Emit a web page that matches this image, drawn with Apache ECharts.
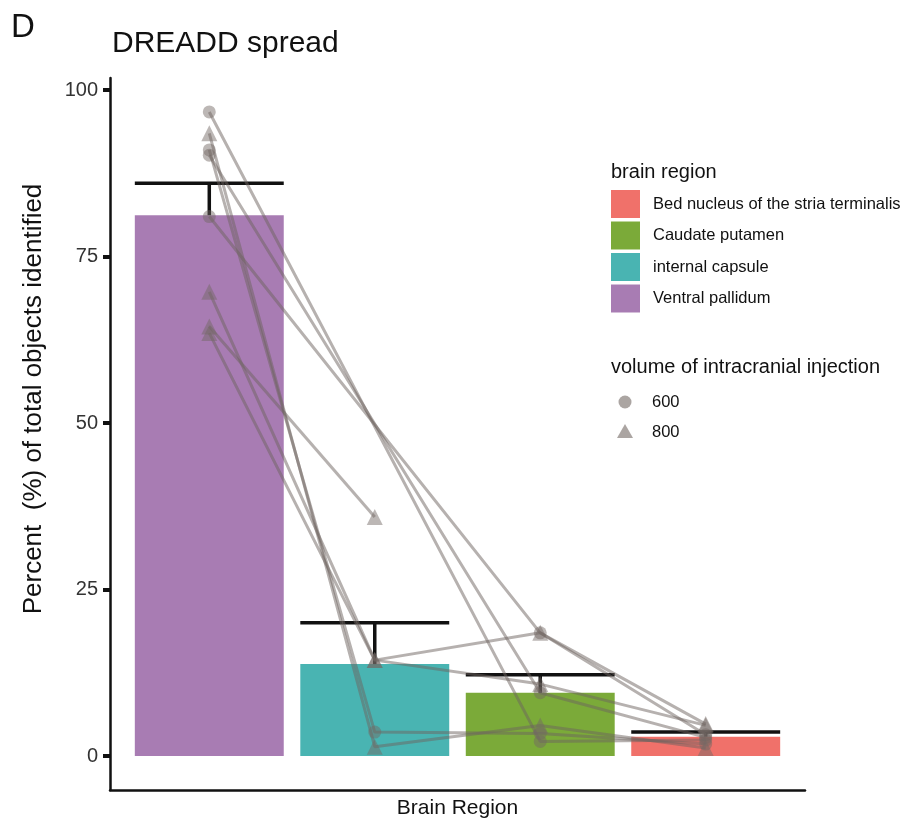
<!DOCTYPE html>
<html>
<head>
<meta charset="utf-8">
<title>DREADD spread</title>
<script src="https://cdn.jsdelivr.net/npm/echarts@6/dist/echarts.min.js"></script>
<style>
  html, body { margin: 0; padding: 0; background: #fff; }
  #chart-container { width: 906px; height: 818px; }
</style>
</head>
<body>
<div id="chart-container"></div>
<script>
// regions in x-axis order
const regions = ['Ventral pallidum', 'internal capsule', 'Caudate putamen', 'Bed nucleus of the stria terminalis'];
const regionColors = ['#A87CB3', '#49B4B2', '#7BAA39', '#F0716A'];
const meanPct = [81.2, 13.8, 9.5, 2.9];
const upperPct = [86.0, 20.0, 12.2, 3.6];   // mean + se
const legendOrder = [3, 2, 1, 0];            // legend is alphabetical

// one row per animal: VP, IC, CP, BNST (null = region not counted)
const subjectVolume = [600, 800, 600, 600, 600, 800, 800, 800];
const subjectPct = [
    [96.7, null, 2.2, 2.4],
    [93.5, 1.4, 4.6, 1.2],
    [91.0, 3.6, 3.4, 1.8],
    [90.2, null, 9.5, 2.8],
    [81.0, null, 18.5, 3.2],
    [69.7, 14.4, 10.8, 4.6],
    [64.5, 35.9, null, null],
    [63.5, 14.4, 18.5, 4.8],
];
const volumes = [600, 800];
const yTicks = [0, 25, 50, 75, 100];

const FONT = '"Liberation Sans", Arial, Helvetica, sans-serif';
const pointColor = 'rgba(115,105,100,0.6)';
const lineColor = 'rgba(110,100,95,0.5)';

const chart = echarts.init(document.getElementById('chart-container'));

const pointsOf = s => subjectPct[s]
    .map((v, i) => (v === null ? null : [i + 1, v]))
    .filter(p => p !== null);

// 每只动物一条连线
const lineSeries = subjectPct.map((row, s) => ({
    type: 'line',
    data: pointsOf(s),
    symbol: 'none',
    lineStyle: { color: lineColor, width: 3 },
    z: 3,
}));

const scatterSeries = volumes.map((vol, k) => ({
    type: 'scatter',
    symbol: k === 0 ? 'circle' : 'triangle',
    symbolSize: k === 0 ? 13 : 16,
    itemStyle: { color: pointColor },
    data: subjectVolume.flatMap((v, s) => (v === vol ? pointsOf(s) : [])),
    z: 4,
}));

// legend built from the same arrays
const legendGraphics = [
    { type: 'text', left: 611, top: 162, style: { text: 'brain region', font: `20px ${FONT}`, fill: '#111' } },
    ...legendOrder.flatMap((r, i) => [
        { type: 'rect', shape: { x: 611, y: 190 + i * 31.5, width: 29, height: 28 }, style: { fill: regionColors[r] } },
        { type: 'text', x: 653, y: 204 + i * 31.5, style: { text: regions[r], font: `16.5px ${FONT}`, fill: '#111', verticalAlign: 'middle' } },
    ]),
    { type: 'text', left: 611, top: 357, style: { text: 'volume of intracranial injection', font: `20px ${FONT}`, fill: '#111' } },
    { type: 'circle', shape: { cx: 625, cy: 402, r: 6.5 }, style: { fill: pointColor } },
    { type: 'text', x: 652, y: 402, style: { text: String(volumes[0]), font: `16.5px ${FONT}`, fill: '#111', verticalAlign: 'middle' } },
    { type: 'polygon', shape: { points: [[625, 424], [633, 438], [617, 438]] }, style: { fill: pointColor } },
    { type: 'text', x: 652, y: 432, style: { text: String(volumes[1]), font: `16.5px ${FONT}`, fill: '#111', verticalAlign: 'middle' } },
    {
        type: 'text', x: 34, y: 399, rotation: Math.PI / 2,
        style: { text: 'Percent  (%) of total objects identified', font: `26px ${FONT}`, fill: '#111', align: 'center', verticalAlign: 'middle' },
    },
];

const option = {
    animation: false,
    backgroundColor: '#fff',
    title: [
        { text: 'D', left: 11, top: 11, padding: 0, textStyle: { fontSize: 33, fontWeight: 'normal', color: '#111', fontFamily: FONT } },
        { text: 'DREADD spread', left: 112, top: 29, padding: 0, textStyle: { fontSize: 30, fontWeight: 'normal', color: '#111', fontFamily: FONT } },
    ],
    grid: { left: 110, right: 101, top: 78, bottom: 28, outerBoundsMode: 'none' },
    xAxis: {
        type: 'value',
        min: 0.4,
        max: 4.6,
        name: 'Brain Region',
        nameLocation: 'middle',
        nameGap: 8,
        nameTextStyle: { fontSize: 21, color: '#111', fontFamily: FONT },
        axisLine: { show: true, onZero: false, lineStyle: { color: '#111', width: 2.5 } },
        axisTick: { show: false },
        axisLabel: { show: false },
        splitLine: { show: false },
    },
    yAxis: {
        type: 'value',
        min: -5.1,
        max: 101.8,
        axisLine: { show: true, onZero: false, lineStyle: { color: '#111', width: 2.5 } },
        axisTick: { show: true, length: 7, customValues: yTicks, lineStyle: { color: '#111', width: 4 } },
        axisLabel: { customValues: yTicks, fontSize: 20, color: '#333', fontFamily: FONT, margin: 12 },
        splitLine: { show: false },
    },
    graphic: legendGraphics,
    series: [
        {
            type: 'custom',
            data: meanPct.map((m, i) => [i + 1, m]),
            renderItem: (params, api) => {
                const x = api.value(0);
                const p0 = api.coord([x - 0.45, api.value(1)]);
                const p1 = api.coord([x + 0.45, 0]);
                return {
                    type: 'rect',
                    shape: { x: p0[0], y: p0[1], width: p1[0] - p0[0], height: p1[1] - p0[1] },
                    style: { fill: regionColors[params.dataIndex] },
                };
            },
            z: 1,
        },
        {
            type: 'custom',
            data: meanPct.map((m, i) => [i + 1, m, upperPct[i]]),
            renderItem: (params, api) => {
                const x = api.value(0);
                const base = api.coord([x, api.value(1)]);
                const top = api.coord([x, api.value(2)]);
                const left = api.coord([x - 0.45, api.value(2)]);
                const right = api.coord([x + 0.45, api.value(2)]);
                const style = { stroke: '#111', lineWidth: 3.5 };
                return {
                    type: 'group',
                    children: [
                        { type: 'line', shape: { x1: left[0], y1: left[1], x2: right[0], y2: right[1] }, style },
                        { type: 'line', shape: { x1: base[0], y1: base[1], x2: top[0], y2: top[1] }, style },
                    ],
                };
            },
            z: 2,
        },
        ...lineSeries,
        ...scatterSeries,
    ],
};

chart.setOption(option);
</script>
</body>
</html>
